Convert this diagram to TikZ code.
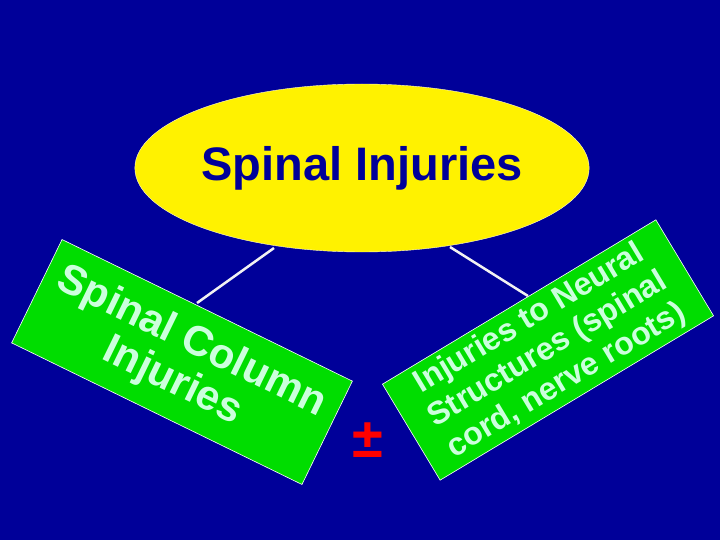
\documentclass[tikz,border=0pt]{standalone}
\usetikzlibrary{shapes.geometric}
\usepackage{fontspec}
\setmainfont{Liberation Sans}
\definecolor{bg}{HTML}{000099}
\definecolor{gbox}{HTML}{00DD00}
\definecolor{mint}{HTML}{CCFFDD}
\begin{document}
\begin{tikzpicture}[x=1pt,y=-1pt,
  boxst/.style={draw=white,line width=0.6pt,fill=gbox,text=mint,font=\bfseries,align=center,inner sep=0pt},
  conn/.style={draw=white!90!gray,line width=2.5pt}]
\fill[bg] (0,0) rectangle (720,540);
\useasboundingbox (0,0) rectangle (720,540);
\node[ellipse,draw=white!80!yellow,fill=yellow,minimum width=380,minimum height=168,inner sep=0pt,text=bg,font=\bfseries\fontsize{47}{50}\selectfont] (top) at (362,168) {Spinal Injuries};
\node[boxst,rotate=-26,minimum width=323,minimum height=115,font=\bfseries\fontsize{42}{44}\selectfont] (left) at (182,362) {Spinal Column\\Injuries};
\node[boxst,rotate=31,minimum width=319,minimum height=112,font=\bfseries\fontsize{32}{36}\selectfont] (right) at (548,350) {Injuries to Neural\\Structures (spinal\\cord, nerve roots)};
\coordinate (l1) at (274,248); \coordinate (l2) at (197,303);
\coordinate (r1) at (450,247); \coordinate (r2) at (528,296);
\draw[conn] (l1) -- (l2);
\draw[conn] (r1) -- (r2);
\node[text=red,font=\bfseries\fontsize{56}{56}\selectfont] (pm) at (368,440) {±};
\end{tikzpicture}
\end{document}
